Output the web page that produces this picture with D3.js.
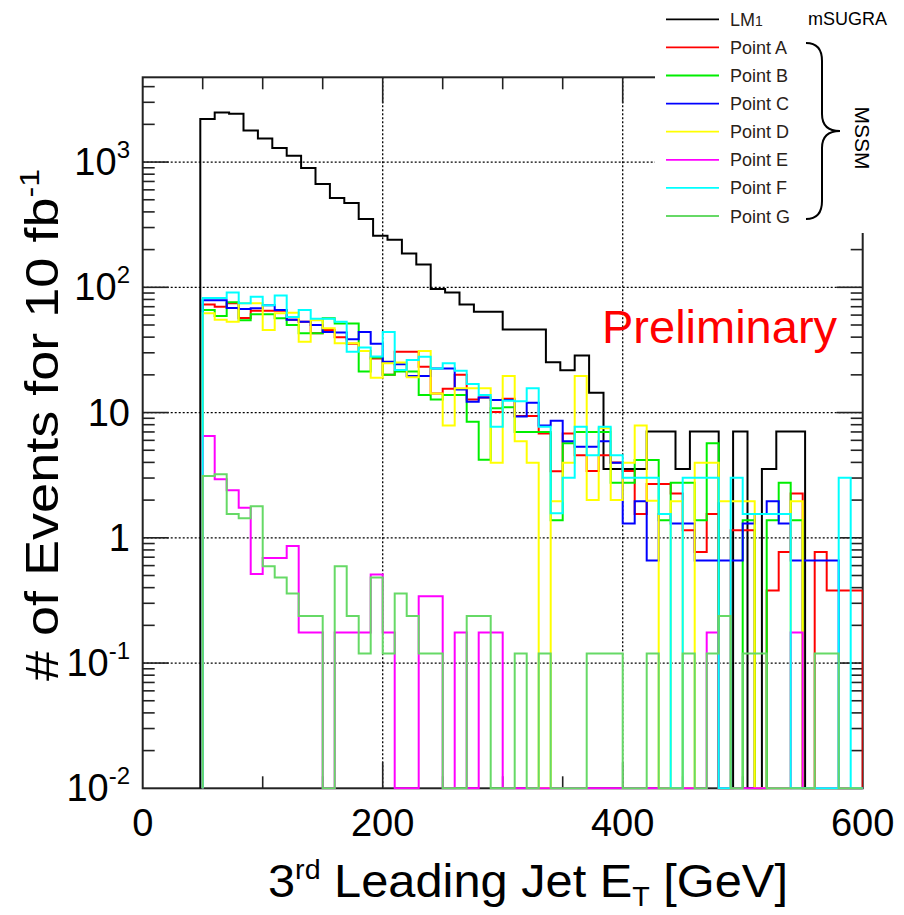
<!DOCTYPE html>
<html><head><meta charset="utf-8">
<script src="https://cdn.jsdelivr.net/npm/d3@7"></script>
<style>
body{margin:0;background:#fff}
svg{display:block}
text{font-family:"Liberation Sans", Arial, Helvetica, sans-serif}
</style>
</head><body>
<svg id="chart" width="904" height="915"></svg>
<script>
// ---------------- data ----------------
// LM1 (mSUGRA): 12 GeV bins starting at 48 GeV
const lm1Start = 48, lm1Width = 12;
const lm1Values = [2203, 2490, 2428, 1787, 1542, 1294, 1123, 896, 667, 516, 471, 351, 258, 240, 186, 152, 97, 91, 72.8, 63.7, 63.7, 46, 46, 46, 25.2, 21.8, 28.5, 14.4, 3.55, 3.55, 3.55, 7.05, 7.05, 3.55, 7.05, 7.05, 0, 7.05, 0, 3.55, 7.05, 7.05, 0, 0, 0, 0];
// MSSM points: 10 GeV bins starting at 50 GeV
const mssmStart = 50, mssmWidth = 10;
const pointA = [73, 70, 74.5, 57, 65, 65, 65, 55, 53, 43, 45.6, 40, 35.5, 31, 27, 20, 30.6, 30.6, 23.2, 14.2, 15.5, 20, 12.7, 13.2, 10.1, 12.9, 9.4, 9.4, 6.8, 3.4, 6.8, 4.57, 3.41, 4.57, 4.0, 3.41, 1.55, 2.69, 2.69, 2.26, 1.15, 0.77, 1.55, 0, 1.15, 1.15, 0, 0.38, 0.77, 2.26, 0, 0.77, 0.38, 0.38, 0.38];
const pointB = [66, 59, 76, 54.5, 61, 61, 56.5, 50, 43, 43, 56.5, 51.5, 51.5, 21.3, 27.5, 20, 21.3, 21.3, 13.8, 12.7, 13.8, 13.8, 8.45, 4.2, 10.8, 11, 7.0, 7.0, 7.0, 1.38, 5.68, 7.0, 7.0, 7.0, 2.75, 2.75, 4.18, 4.18, 1.38, 2.75, 2.75, 1.38, 5.68, 0, 0, 1.38, 0, 1.38, 2.75, 1.38, 0, 0, 0, 0, 0];
const pointC = [79, 79, 68.5, 67, 68, 72, 66, 55, 53, 50, 44, 43.6, 38.5, 44, 35.5, 25.5, 24.3, 19.6, 19.6, 22.5, 22.5, 15.3, 12.2, 13.2, 12.6, 12.6, 9.3, 12.0, 7.9, 8.6, 5.9, 5.34, 5.34, 5.9, 3.97, 1.3, 1.96, 0.66, 1.55, 1.3, 1.3, 0.66, 0.66, 0.66, 0.66, 1.3, 1.55, 1.96, 1.3, 0.66, 0.66, 0.66, 0.66, 0, 0];
const pointD = [62, 55, 53, 74.5, 74.5, 45.6, 62, 62.5, 36.8, 54.5, 47, 35.7, 35.7, 31, 19, 24.7, 25.1, 19.1, 31, 14.2, 7.9, 15.6, 15.6, 15.6, 3.97, 19.6, 5.9, 3.97, 0, 1.96, 3.97, 19.6, 2.0, 7.5, 2.0, 3.97, 7.9, 1.98, 0, 1.96, 0, 3.97, 3.97, 1.96, 1.96, 1.96, 0, 0, 0, 1.96, 0, 0, 0, 0, 0];
const pointE = [6.5, 2.94, 2.40, 1.74, 0.513, 0.69, 0.69, 0.86, 0.175, 0.175, 0, 0.175, 0.175, 0.175, 0.51, 0.175, 0, 0, 0.342, 0.342, 0, 0.175, 0, 0.175, 0.175, 0, 0, 0, 0, 0, 0, 0, 0, 0, 0, 0, 0, 0, 0, 0, 0, 0, 0.175, 0, 0, 0, 0, 0, 0, 0.175, 0, 0, 0, 0, 0];
const pointF = [82, 82, 91, 74.5, 84, 72, 86, 58, 66, 56, 56, 53, 30.6, 33, 28, 44, 21.9, 26.3, 27.9, 22.5, 24.7, 21.6, 16.9, 13.8, 7.7, 12.4, 12.3, 15.6, 7.7, 1.57, 3.02, 7.7, 4.57, 7.7, 4.57, 3.02, 3.02, 3.02, 1.55, 0, 3.02, 3.02, 3.02, 0, 3.02, 1.55, 1.55, 1.55, 1.55, 0, 0, 0, 0, 3.02, 0];
const pointG = [3.11, 3.21, 1.55, 1.43, 1.79, 0.594, 0.483, 0.36, 0.238, 0.238, 0, 0.594, 0.238, 0.119, 0.483, 0.119, 0.36, 0.238, 0.119, 0.119, 0, 0, 0.238, 0.238, 0, 0, 0.119, 0, 0.119, 0, 0, 0, 0.119, 0.119, 0.119, 0, 0, 0.119, 0, 0, 0.119, 0, 0.119, 0.238, 0, 0.119, 0.119, 0, 0, 0, 0, 0.119, 0.119, 0, 0];

const seriesNames = ["LM1", "Point A", "Point B", "Point C", "Point D", "Point E", "Point F", "Point G"];
const seriesColors = ["#000000", "#ff0000", "#00ee00", "#0000ff", "#ffff00", "#ff00ff", "#00ffff", "#66d966"];

const xTickValues = [0, 200, 400, 600];
const yTickValues = [0.01, 0.1, 1, 10, 100, 1000];
const yTickBase = ["10", "10", "1", "10", "10", "10"];
const yTickExp = ["-2", "-1", "", "", "2", "3"];

// ---------------- layout ----------------
const L = 142.7, R = 862.7, T = 77.3, B = 788.3;
const yMin = 0.01, yMax = 4750;
const svg = d3.select("#chart");
const x = d3.scaleLinear().domain([0, 600]).range([L, R]);
const y = d3.scaleLog().domain([yMin, yMax]).range([B, T]);

// grid
const grid = svg.append("g").attr("stroke", "#000").attr("stroke-width", 1.3).attr("stroke-dasharray", "2,2");
[200, 400].forEach(v => grid.append("line").attr("x1", x(v)).attr("x2", x(v)).attr("y1", T).attr("y2", B));
[0.1, 1, 10, 100, 1000].forEach(v => grid.append("line").attr("x1", L).attr("x2", R).attr("y1", y(v)).attr("y2", y(v)));

// ticks
const tk = svg.append("g").attr("stroke", "#222").attr("stroke-width", 1.6);
for (let v = 50; v < 600; v += 50) {
  const len = (v % 200 === 0) ? 26 : 12;
  tk.append("line").attr("x1", x(v)).attr("x2", x(v)).attr("y1", B).attr("y2", B - len);
  tk.append("line").attr("x1", x(v)).attr("x2", x(v)).attr("y1", T).attr("y2", T + len);
}
for (let e = -2; e <= 3; e++) {
  [1, 2, 3, 4, 5, 6, 7, 8, 9].forEach(m => {
    const v = m * Math.pow(10, e);
    if (v <= yMin || v >= yMax) return;
    const len = m === 1 ? 26 : 12;
    tk.append("line").attr("x1", L).attr("x2", L + len).attr("y1", y(v)).attr("y2", y(v));
    tk.append("line").attr("x1", R).attr("x2", R - len).attr("y1", y(v)).attr("y2", y(v));
  });
}

// frame
svg.append("rect").attr("x", L).attr("y", T).attr("width", R - L).attr("height", B - T)
  .attr("fill", "none").attr("stroke", "#222").attr("stroke-width", 2);

// histograms
const clip = svg.append("clipPath").attr("id", "clip");
clip.append("rect").attr("x", L).attr("y", T).attr("width", R - L).attr("height", B - T + 1);

function stepPoints(start, width, vals) {
  const pts = [[start, 0]];
  vals.forEach((v, i) => {
    pts.push([start + i * width, v]);
    pts.push([start + (i + 1) * width, v]);
  });
  pts.push([start + vals.length * width, 0]);
  return pts;
}
const line = d3.line().x(d => x(d[0])).y(d => y(d[1] > yMin ? d[1] : yMin));

const seriesValues = [lm1Values, pointA, pointB, pointC, pointD, pointE, pointF, pointG];
const histData = seriesValues.map((vals, i) => ({
  name: seriesNames[i], color: seriesColors[i],
  pts: i === 0 ? stepPoints(lm1Start, lm1Width, vals) : stepPoints(mssmStart, mssmWidth, vals)
}));
svg.append("g").attr("clip-path", "url(#clip)")
  .selectAll("path").data(histData).join("path")
  .attr("d", d => line(d.pts))
  .attr("fill", "none")
  .attr("stroke", d => d.color)
  .attr("stroke-width", 2);

// tick labels
const xl = svg.append("g").attr("font-size", 38).attr("fill", "#000").attr("text-anchor", "middle");
xTickValues.forEach(v => xl.append("text").attr("x", x(v)).attr("y", 836).text(v));

const yl = svg.append("g").attr("fill", "#000").attr("text-anchor", "end");
yTickValues.forEach((v, i) => {
  const t = yl.append("text").attr("x", 130).attr("y", y(v) + 13).attr("font-size", 38);
  t.append("tspan").text(yTickBase[i]);
  if (yTickExp[i]) t.append("tspan").attr("font-size", 24).attr("dy", -17).text(yTickExp[i]);
});

// axis titles
const xt = svg.append("text").attr("transform", "translate(268,897) scale(1.06,1)").attr("font-size", 46).attr("fill", "#000");
xt.append("tspan").text("3");
xt.append("tspan").attr("font-size", 27).attr("dy", -18).text("rd");
xt.append("tspan").attr("dy", 18).text(" Leading Jet E");
xt.append("tspan").attr("font-size", 27).attr("dy", 9).text("T");
xt.append("tspan").attr("dy", -9).text(" [GeV]");

const yt = svg.append("text").attr("transform", "translate(58,425) rotate(-90) scale(1.15,1)")
  .attr("text-anchor", "middle").attr("font-size", 47).attr("fill", "#000");
yt.append("tspan").text("# of Events for 10 fb");
yt.append("tspan").attr("font-size", 28).attr("dy", -19).text("-1");

// Preliminary
svg.append("text").attr("x", 602).attr("y", 343).attr("font-size", 47).attr("fill", "#ff0000").text("Preliminary");

// legend (opaque box covering the top-right corner of the frame)
const lg = svg.append("g");
lg.append("rect").attr("x", 655).attr("y", 0).attr("width", 249).attr("height", 233).attr("fill", "#fff");
const legY0 = 19.3, legDy = 28.1;
seriesNames.forEach((n, i) => {
  const yy = legY0 + i * legDy;
  lg.append("line").attr("x1", 666).attr("x2", 719).attr("y1", yy).attr("y2", yy)
    .attr("stroke", seriesColors[i]).attr("stroke-width", 1.8);
  const t = lg.append("text").attr("x", 730).attr("y", yy + 6.5).attr("font-size", 18).attr("fill", "#2a2218");
  if (n === "LM1") { t.append("tspan").text("LM"); t.append("tspan").attr("font-size", 14).text("1"); }
  else t.text(n);
});
lg.append("text").attr("x", 808).attr("y", 25).attr("font-size", 18).attr("fill", "#000").text("mSUGRA");
lg.append("path")
  .attr("d", "M806,43 Q822,43 822,61 L822,114 Q822,131 840,131 Q822,131 822,148 L822,201 Q822,219 806,219")
  .attr("fill", "none").attr("stroke", "#000").attr("stroke-width", 2);
lg.append("text").attr("transform", "translate(855,138) rotate(90)").attr("text-anchor", "middle")
  .attr("font-size", 21).attr("fill", "#000").text("MSSM");
</script>
</body></html>
